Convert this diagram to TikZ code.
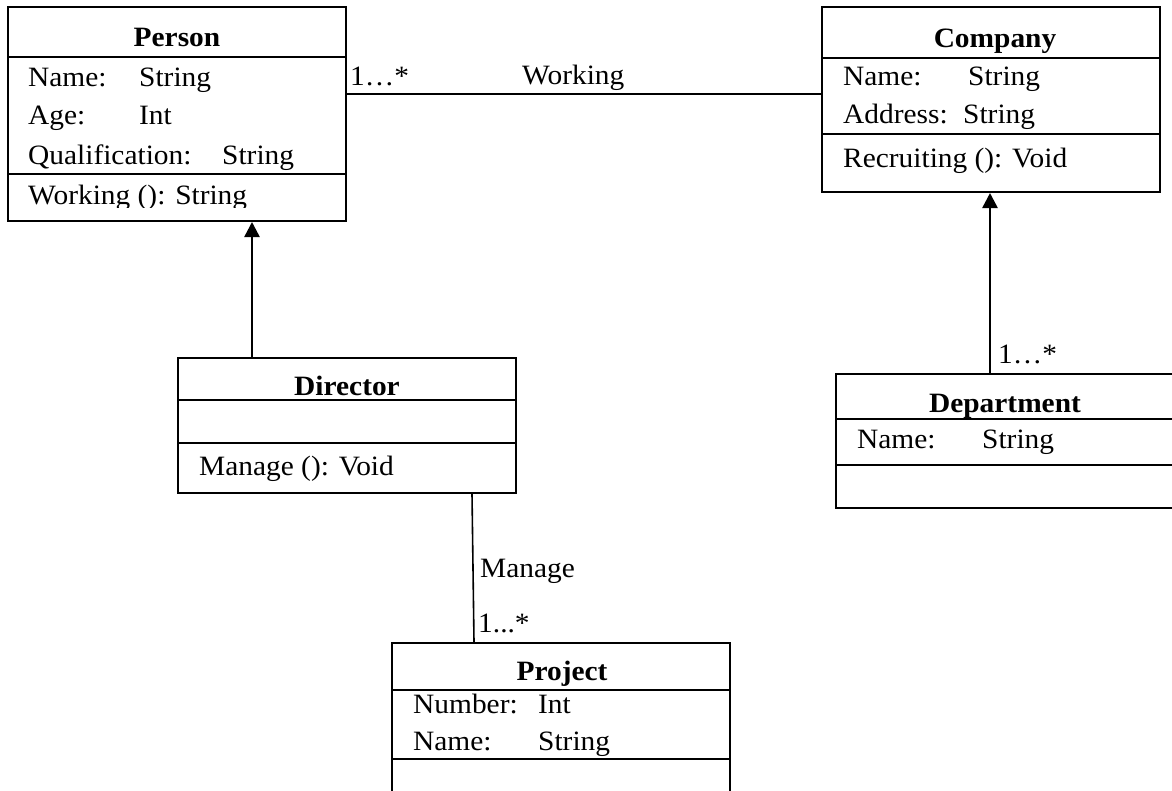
\documentclass[tikz,border=0pt]{standalone}
\usepackage{fontspec}
\setmainfont{Liberation Serif}[FakeStretch=1.05]
\usetikzlibrary{arrows.meta}

\begin{document}
\begin{tikzpicture}[x=1pt,y=-1pt,
  cls/.style={draw, line width=2pt, rectangle, inner sep=0pt, minimum width=338pt},
  sepline/.style={line width=2pt},
  txt/.style={anchor=base west, inner sep=0pt, font=\fontsize{28}{32}\selectfont},
  ttl/.style={anchor=base, inner sep=0pt, font=\fontsize{28}{32}\selectfont\bfseries},
  assoc/.style={line width=2pt},
  gen/.style={line width=2.5pt, -{Triangle[length=15pt,width=15pt]}}
]
\useasboundingbox (0,0) rectangle (1172,790);
\clip (0,0) rectangle (1172,790);

% class boxes
\node[cls, minimum height=214pt] (person)   at (177,114)   {};
\node[cls, minimum height=185pt] (company)  at (991,99.5)  {};
\node[cls, minimum height=135pt] (director) at (347,425.5) {};
\node[cls, minimum height=134pt] (dept)     at (1005,441)  {};
\node[cls, minimum height=167pt] (project)  at (561,726.5) {};

% compartment rows
\coordinate (pA) at (0,57);  \coordinate (pB) at (0,174);
\coordinate (cA) at (0,58);  \coordinate (cB) at (0,134);
\coordinate (dA) at (0,400); \coordinate (dB) at (0,443);
\coordinate (eA) at (0,419); \coordinate (eB) at (0,465);
\coordinate (jA) at (0,690); \coordinate (jB) at (0,759);
\draw[sepline] (person.west |- pA) -- (person.east |- pA);
\draw[sepline] (person.west |- pB) -- (person.east |- pB);
\draw[sepline] (company.west |- cA) -- (company.east |- cA);
\draw[sepline] (company.west |- cB) -- (company.east |- cB);
\draw[sepline] (director.west |- dA) -- (director.east |- dA);
\draw[sepline] (director.west |- dB) -- (director.east |- dB);
\draw[sepline] (dept.west |- eA) -- (dept.east |- eA);
\draw[sepline] (dept.west |- eB) -- (dept.east |- eB);
\draw[sepline] (project.west |- jA) -- (project.east |- jA);
\draw[sepline] (project.west |- jB) -- (project.east |- jB);

% Person
\node[ttl] (personT) at (177,46) {Person};
\node[txt] (p1a) at (28,86)  {Name:};
\node[txt] (p1b) at (139,86) {String};
\node[txt] (p2a) at (28,124) {Age:};
\node[txt] (p2b) at (139,124) {Int};
\node[txt] (p3a) at (28,164) {Qualification:};
\node[txt] (p3b) at (222,164) {String};
\begin{scope}
  \clip (8,176) rectangle (346,207);
  \node[txt] (p4) at (28,204) {Working (): String};
\end{scope}

% Company
\node[ttl] (companyT) at (995,47) {Company};
\node[txt] (c1a) at (843,85)  {Name:};
\node[txt] (c1b) at (968,85)  {String};
\node[txt] (c2a) at (843,123) {Address:};
\node[txt] (c2b) at (963,123) {String};
\node[txt] (c3)  at (843,167) {Recruiting (): Void};

% Director
\node[ttl] (directorT) at (347,395) {Director};
\node[txt] (d1) at (199,475) {Manage (): Void};

% Department
\node[ttl] (deptT) at (1005,412) {Department};
\node[txt] (e1a) at (857,448) {Name:};
\node[txt] (e1b) at (982,448) {String};

% Project
\node[ttl] (projectT) at (562,680) {Project};
\node[txt] (j1a) at (413,713) {Number:};
\node[txt] (j1b) at (538,713) {Int};
\node[txt] (j2a) at (413,750) {Name:};
\node[txt] (j2b) at (538,750) {String};

% connectors
\coordinate (wy) at (0,94);
\coordinate (gx1) at (252,0);
\coordinate (gx2) at (990,0);
\coordinate (mx1) at (472,0);
\coordinate (mx2) at (474,0);
\draw[assoc] (person.east |- wy) -- (company.west |- wy);
\draw[gen] (director.north -| gx1) -- (person.south -| gx1);
\draw[gen] (dept.north -| gx2) -- (company.south -| gx2);
\draw[line width=1.6pt] (director.south -| mx1) -- (project.north -| mx2);

% association labels
\node[txt] (lw1) at (350,85)  {1…*};
\node[txt] (lw2) at (522,84)  {Working};
\node[txt] (ld)  at (998,363) {1…*};
\node[txt] (lm1) at (480,577) {Manage};
\node[txt] (lm2) at (478,632) {1...*};
\end{tikzpicture}
\end{document}
